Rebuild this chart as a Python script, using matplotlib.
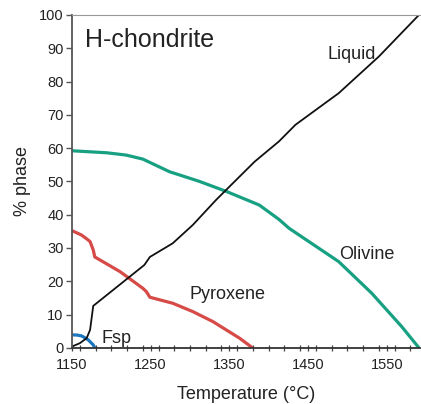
import matplotlib.pyplot as plt
from matplotlib.ticker import MultipleLocator

plt.rcParams['font.family'] = ['Liberation Sans', 'DejaVu Sans']

# phase proportions (T in deg C, % phase)
liquid_T = [1150, 1160, 1168.6, 1173, 1177, 1242, 1249, 1278, 1303.5, 1333, 1341.5, 1382, 1413, 1434, 1489, 1540, 1591]
liquid_v = [0.4, 1.4, 2.9, 5.4, 12.6, 24.9, 27.3, 31.4, 36.9, 44.4, 46.4, 55.9, 62, 67, 76.5, 87.5, 100]

olivine_T = [1150, 1194, 1219, 1240, 1274, 1312, 1346, 1388, 1413, 1426, 1489, 1531, 1569, 1591]
olivine_v = [59.2, 58.6, 57.9, 56.7, 52.9, 50, 47, 42.9, 38.6, 35.9, 25.9, 16.4, 6.4, 0]

pyroxene_T = [1150, 1162, 1170, 1173, 1177, 1179, 1211, 1240, 1244.5, 1249, 1278, 1303.5, 1329, 1363, 1379.5]
pyroxene_v = [35.2, 33.9, 32.5, 31.9, 29.4, 27.3, 22.9, 17.9, 16.9, 15.2, 13.4, 10.9, 7.9, 2.9, 0]

fsp_T = [1150, 1156, 1162, 1166, 1170.6, 1174, 1177, 1179]
fsp_v = [3.9, 3.85, 3.6, 3.1, 2.4, 1.6, 0.9, 0]

fig = plt.figure(figsize=(4.21, 4.04), dpi=100)
ax = fig.add_axes([0.171, 0.139, 0.826, 0.824])

ax.plot(olivine_T, olivine_v, c='#17a082', lw=2.3, solid_capstyle='butt')
ax.plot(pyroxene_T, pyroxene_v, c='#d64a47', lw=2.3, solid_capstyle='butt')
ax.plot(fsp_T, fsp_v, c='#1b78c0', lw=2.3, solid_capstyle='butt')
ax.plot(liquid_T, liquid_v, c='#111111', lw=1.3)

ax.text(1166.5, 90.4, 'H-chondrite', fontsize=18, color='#222222')
ax.text(1474.5, 86.7, 'Liquid', fontsize=13, color='#222222')
ax.text(1489, 26.6, 'Olivine', fontsize=13, color='#222222')
ax.text(1299, 14.6, 'Pyroxene', fontsize=13, color='#222222')
ax.text(1187.6, 1.4, 'Fsp', fontsize=13, color='#222222')

ax.set_xlim(1150, 1592)
ax.set_ylim(0, 100)
ax.set_xticks([1150, 1250, 1350, 1450, 1550])
ax.xaxis.set_minor_locator(MultipleLocator(20))
ax.set_yticks(range(0, 101, 10))

ax.spines['right'].set_visible(False)
ax.spines['top'].set_color('#999999')
ax.spines['left'].set_color('#555555')
ax.spines['bottom'].set_color('#333333')
ax.spines['left'].set_linewidth(1.3)
ax.spines['bottom'].set_linewidth(1.3)

ax.tick_params(axis='y', direction='out', length=4, width=1, color='#555555',
               labelsize=10.5, labelcolor='#222222', pad=2)
ax.tick_params(axis='x', which='both', direction='inout', length=5, width=0.9,
               color='#444444', labelsize=10.5, labelcolor='#222222', pad=5)

ax.set_xlabel('Temperature (°C)', fontsize=13, color='#222222', labelpad=10)
ax.set_ylabel('% phase', fontsize=13, color='#222222', labelpad=6)

plt.savefig('out.png', dpi=100)
